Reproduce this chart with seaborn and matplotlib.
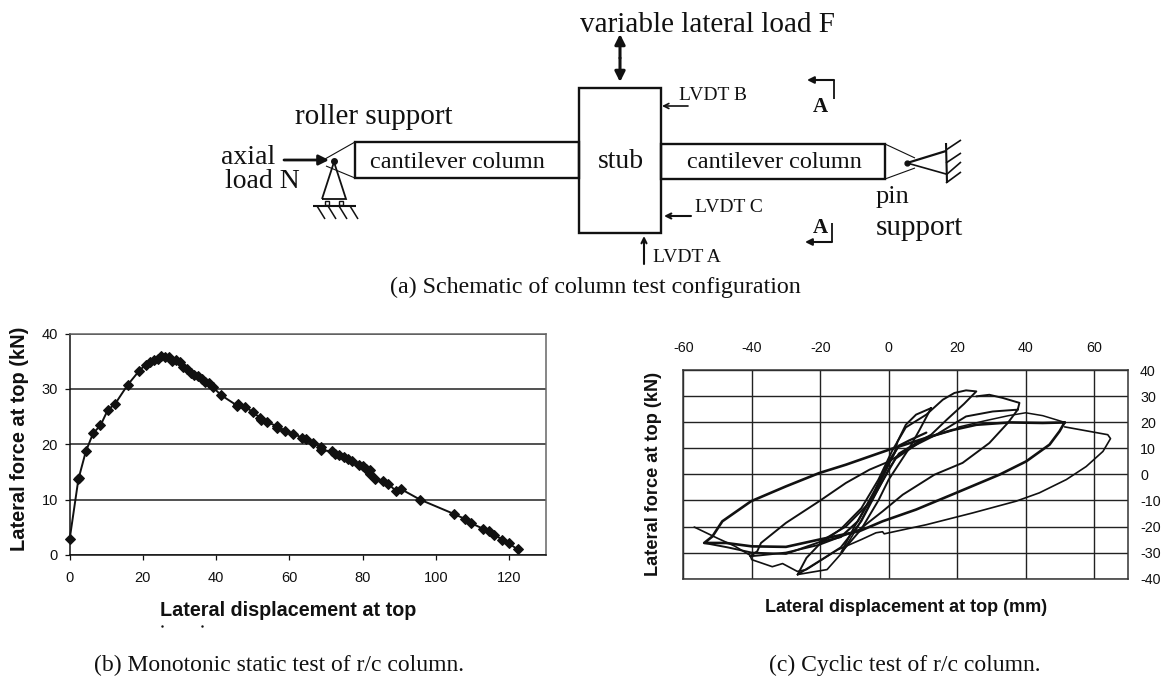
import matplotlib
matplotlib.use("Agg")
import matplotlib.pyplot as plt
from matplotlib.patches import Rectangle
import pandas as pd
import seaborn as sns

# Monotonic test (b)
mono_disp = [0, 2.4, 2.5, 4.4, 6.4, 8.4, 10.4, 12.4, 15.8, 19, 20.8, 22, 23, 24, 25, 26, 27, 28, 29, 30,
             31, 32, 33, 34, 35, 36, 37, 38, 39, 41.3, 45.7, 46, 48, 50, 52, 52.3, 54, 56.5, 56.7, 58.7,
             61, 63.5, 64.5, 66.5, 68.5, 68.7, 71.5, 72.5, 73.5, 75, 76, 77, 79, 80, 81, 82, 82, 83.5,
             85.5, 87, 89, 90.5, 95.7, 105, 108, 109.5, 113, 114.5, 116, 118, 120, 122.3]
mono_force = [2.9, 13.8, 14, 18.7, 22, 23.4, 26.2, 27.3, 30.7, 33.3, 34.4, 34.8, 35.2, 35.4, 36, 35.8, 35.8, 35, 35.2, 34.8,
              34, 33.6, 32.8, 32.6, 32.3, 31.8, 31.2, 31, 30.4, 28.9, 27, 27.2, 26.8, 25.8, 24.8, 24.4, 24, 23.3, 23, 22.4,
              21.9, 21.2, 21, 20.3, 19.6, 19, 18.7, 18.3, 18, 17.7, 17.3, 16.9, 16.3, 16, 15.6, 15.3, 14.6, 13.7,
              13.3, 12.9, 11.6, 11.9, 10, 7.4, 6.5, 5.8, 4.7, 4.3, 3.7, 2.8, 2.1, 1]

# Cyclic test (c), one list pair per traced branch
small_x = [12.4, 9, 6, 3, 0, -3, -8, -13.9, -10, -5, -1, 1.7, 2.6, 5, 8, 12.4]
small_y = [25.4, 17, 10, 4, -2, -10, -21, -30, -20, -9, 1, 8.2, 12.6, 19, 22.9, 25.4]
loop25_x = [-26.6, -24, -20, -14, -8, -3, 1, 5, 11, 15.8, 19.2, 22.6, 25.6, 22, 17, 12.4, 8, 3, 0, -4, -8, -14, -20, -26.6]
loop25_y = [-38.4, -32, -26.5, -21, -13, -2, 9, 18, 22.9, 28.6, 31.2, 32.2, 31.8, 27, 21, 15.2, 12, 8, 2, -8, -18, -28, -33, -38.4]
lens_x = [-26.6, -18, -13.6, -9, -5, 0, 3]
lens_y = [-38.4, -36.5, -30, -20, -10, 4, 11]
loop37_x = [25.6, 29.4, 33.3, 38.2, 37.7, 34.8, 29.4, 21.6, 13.4, 4.1, -1.8, -8.6, -20.3, -30, -37.3, -40.5, -38.4,
            -37.3, -30, -20.3, -12.5, -5.6, 0.2, 6, 13.9, 22.6, 30.4, 37.7]
loop37_y = [29.9, 30.5, 29.3, 27.4, 24.8, 19.7, 12, 4.4, -0.1, -7.8, -14.2, -21.2, -27, -30, -31, -31.4, -29.5,
            -26.3, -18.6, -10.3, -3.3, 1.8, 5, 10, 15.2, 22.2, 24.1, 24.8]
loop50_x = [51.4, 49.9, 47, 40.2, 32.4, 19.7, 8, -1.8, -8.6, -20.3, -30, -40, -47.5, -53.9, -51.5, -48.6, -40.2, -30, -20.3,
            -12.5, 0.2, 11, 18.7, 25.6, 35.3, 45, 51.4]
loop50_y = [19.9, 16.5, 11.4, 5, -0.1, -7.1, -13.5, -18, -21.8, -25, -27.8, -27.6, -26.3, -26.3, -23.8, -18, -10.3, -4.6, 0.5,
            3.7, 9.5, 14, 17, 19, 19.9, 19.7, 19.9]
under_x = [-53.9, -47, -40, -30, -20.3, -12.5, -5, 2, 11, 18.7]
under_y = [-26.3, -28, -30, -30.5, -26, -20, -10, 6, 14, 17]
bundle_x = [-20, -14, -9, -4, 0, 3, 6, 11]
bundle_y = [-26, -24, -18, -6, 5, 11, 13, 16]
outer_x = [-56.8, -50, -45, -40.5, -40, -34, -31, -26.7, -24, -15, -8, -3.7, -1.8, -1.3, 11, 24.5, 37.2, 44, 51.9, 57.7,
           62.6, 64.8, 64, 51.4]
outer_y = [-20.2, -24.5, -27.5, -31, -32.7, -35.4, -34.2, -37.2, -36.5, -29, -25, -22.4, -22, -22.8, -19.3, -14.8, -10.3, -7.1, -2, 3,
           8.8, 13.7, 15.2, 18.2]
crest_x = [51.4, 50, 45, 40, 35, 28, 20]
crest_y = [19.9, 20.5, 22.5, 23.6, 22.5, 20.5, 18]

mono_xticks = [0, 20, 40, 60, 80, 100, 120]
mono_yticks = [0, 10, 20, 30, 40]
cyc_xticks = [-60, -40, -20, 0, 20, 40, 60]
cyc_yticks = [-40, -30, -20, -10, 0, 10, 20, 30, 40]

W, H = 1162, 679
INK = "#111111"
SANS = "Liberation Sans"
SERIF = "Liberation Serif"

sns.set_theme(style="white")
plt.rcParams["font.family"] = SANS
plt.rcParams["axes.unicode_minus"] = False
fig = plt.figure(figsize=(W / 100, H / 100), dpi=100, facecolor="white")


def add_axes(left, top, right, bottom):
    return fig.add_axes([left / W, 1 - bottom / H, (right - left) / W, (bottom - top) / H])


# (b) monotonic
ax_b = add_axes(69.7, 333.6, 545.7, 555)
df_b = pd.DataFrame({"disp": mono_disp, "force": mono_force})
sns.lineplot(data=df_b, x="disp", y="force", sort=False, estimator=None, color=INK, lw=1.4,
             marker="D", markersize=5.5, markeredgecolor=INK, ax=ax_b, clip_on=False, zorder=3)
ax_b.set_xlim(0, 130)
ax_b.set_ylim(0, 40)
ax_b.set_xticks(mono_xticks)
ax_b.set_yticks(mono_yticks)
ax_b.tick_params(labelsize=10.5, length=3.4, width=0.9, color=INK, labelcolor=INK, left=True, bottom=True)
ax_b.tick_params(axis="x", pad=8)
ax_b.tick_params(axis="y", pad=5)
ax_b.grid(axis="y", color="#222222", lw=1.1)
ax_b.set_axisbelow(True)
for side in ["left", "bottom"]:
    ax_b.spines[side].set_color(INK)
    ax_b.spines[side].set_linewidth(1.1)
for side in ["top", "right"]:
    ax_b.spines[side].set_color("#666666")
    ax_b.spines[side].set_linewidth(1.1)
ax_b.set_xlabel("Lateral displacement at top", fontsize=14.2, fontweight="bold", color=INK)
ax_b.set_ylabel("Lateral force at top (kN)", fontsize=14.4, fontweight="bold", color=INK)
ax_b.xaxis.set_label_coords((288 - 69.7) / 476, -(611 - 555) / 221.4, transform=ax_b.transAxes)
ax_b.xaxis.label.set_verticalalignment("center")
ax_b.yaxis.set_label_coords(-(69.7 - 20) / 476, (555 - 439) / 221.4, transform=ax_b.transAxes)
ax_b.yaxis.label.set_verticalalignment("center")

# (c) cyclic
ax_c = add_axes(683.3, 370, 1128.3, 578.7)
branches = [("small", small_x, small_y, 1.4), ("loop25", loop25_x, loop25_y, 1.4), ("lens", lens_x, lens_y, 1.2),
            ("loop37", loop37_x, loop37_y, 1.4), ("loop50", loop50_x, loop50_y, 1.9), ("under", under_x, under_y, 1.4),
            ("bundle", bundle_x, bundle_y, 1.6), ("outer", outer_x, outer_y, 1.2), ("crest", crest_x, crest_y, 1.1)]
for name, xs, ys, width in branches:
    df_c = pd.DataFrame({"disp": xs, "force": ys})
    sns.lineplot(data=df_c, x="disp", y="force", sort=False, estimator=None, color=INK, lw=width, ax=ax_c, zorder=3)
ax_c.set_xlim(-60, 70)
ax_c.set_ylim(-40, 40)
ax_c.set_xticks(cyc_xticks)
ax_c.set_yticks(cyc_yticks)
ax_c.xaxis.tick_top()
ax_c.yaxis.tick_right()
ax_c.tick_params(labelsize=10.3, length=0, labelcolor=INK)
ax_c.tick_params(axis="x", pad=11)
ax_c.tick_params(axis="y", pad=8.5)
ax_c.grid(True, color="#222222", lw=1.0)
ax_c.set_axisbelow(True)
for spine in ax_c.spines.values():
    spine.set_color("#333333")
    spine.set_linewidth(1.1)
ax_c.xaxis.set_label_position("bottom")
ax_c.yaxis.set_label_position("left")
ax_c.set_xlabel("Lateral displacement at top (mm)", fontsize=13, fontweight="bold", color=INK)
ax_c.set_ylabel("Lateral force at top (kN)", fontsize=13.1, fontweight="bold", color=INK)
ax_c.xaxis.set_label_coords((906 - 683.3) / 445, -(608 - 578.7) / 208.7, transform=ax_c.transAxes)
ax_c.xaxis.label.set_verticalalignment("center")
ax_c.yaxis.set_label_coords(-(683.3 - 653) / 445, (578.7 - 474) / 208.7, transform=ax_c.transAxes)
ax_c.yaxis.label.set_verticalalignment("center")

# Schematic and captions, on a full-figure overlay in image pixels
ov = fig.add_axes([0, 0, 1, 1], zorder=5)
ov.set_xlim(0, W)
ov.set_ylim(H, 0)
ov.axis("off")
ov.patch.set_alpha(0)


def line(xs, ys, lw=1.0):
    ov.plot(xs, ys, color=INK, lw=lw, solid_capstyle="butt", solid_joinstyle="miter")


def arrow(start, end, lw=1.5, size=9, style="-|>"):
    ov.annotate("", xy=end, xytext=start,
                arrowprops=dict(arrowstyle=style, color=INK, lw=lw, mutation_scale=size, shrinkA=0, shrinkB=0))


def label(x, y, text, size=20, ha="center", weight="normal"):
    ov.text(x, y, text, fontsize=size, family=SERIF, ha=ha, va="center", color=INK, fontweight=weight)


for left, top, right, bottom in [(355, 142, 579, 178), (578.5, 88, 661, 233), (661, 144, 885, 179)]:
    ov.add_patch(Rectangle((left, top), right - left, bottom - top, fill=False, ec=INK, lw=1.7))

# roller support
line([355, 325], [142, 159], 0.8)
line([355, 326], [178, 166], 0.8)
line([322, 334, 346, 322], [199, 162, 199, 199], 1.3)
ov.plot([334], [161], "o", color=INK, ms=4)
for rx in [327, 341]:
    ov.plot([rx], [202.5], "s", mfc="white", mec=INK, ms=3.5, mew=1)
line([313, 356], [206, 206], 1.5)
for hx in [317, 328, 339, 350]:
    line([hx, hx + 8], [206, 219], 1.1)
arrow((284, 160), (329, 160), lw=2.0, size=15)

# pin support
line([885, 915], [144, 158], 0.8)
line([885, 915], [179, 168], 0.8)
line([907, 946], [163, 151], 1.6)
line([907, 946], [163, 174], 1.2)
ov.plot([907], [163], "o", color=INK, ms=3.5)
line([946, 947], [143, 183], 1.5)
for hy, hy2 in [(150, 140), (163, 153), (175, 162), (183, 172)]:
    line([946, 961], [hy, hy2], 1.2)

# load and LVDT arrows
arrow((620, 58), (620, 34), lw=2.2, size=15)
arrow((620, 58), (620, 82), lw=2.2, size=15)
arrow((688, 106), (662, 106), lw=1.2, size=9, style="->")
arrow((691, 216), (664, 216), lw=1.5, size=9, style="->")
arrow((644, 264), (644, 236), lw=1.5, size=9, style="->")

# section A-A marks
line([834, 834], [99, 80], 1.3)
arrow((834, 80), (807, 80), lw=1.5, size=10)
line([832, 832], [223, 242], 1.3)
arrow((832, 242), (805, 242), lw=1.5, size=10)
label(820, 107, "A", size=15, weight="bold")
label(820, 228, "A", size=15, weight="bold")

label(707, 25, "variable lateral load F", size=21)
label(374, 117, "roller support", size=21)
label(248, 157, "axial")
label(262, 182, "load N")
label(457.5, 162, "cantilever column", size=17.5)
label(774, 162, "cantilever column", size=17.5)
label(621, 162, "stub")
label(876, 197, "pin", ha="left", size=19)
label(876, 228, "support", ha="left", size=21)
label(679, 96, "LVDT B", size=14, ha="left")
label(695, 208, "LVDT C", size=14, ha="left")
label(653, 258, "LVDT A", size=14, ha="left")
label(595, 287, "(a) Schematic of column test configuration", size=17.3)
label(279, 665, "(b) Monotonic static test of r/c column.", size=17)
label(905, 665, "(c) Cyclic test of r/c column.", size=17)

# remains of the clipped unit line under the left axis title
ov.plot([162, 202], [626, 626], ".", color=INK, ms=1.5)

fig.savefig("out.png", dpi=100, facecolor="white")
